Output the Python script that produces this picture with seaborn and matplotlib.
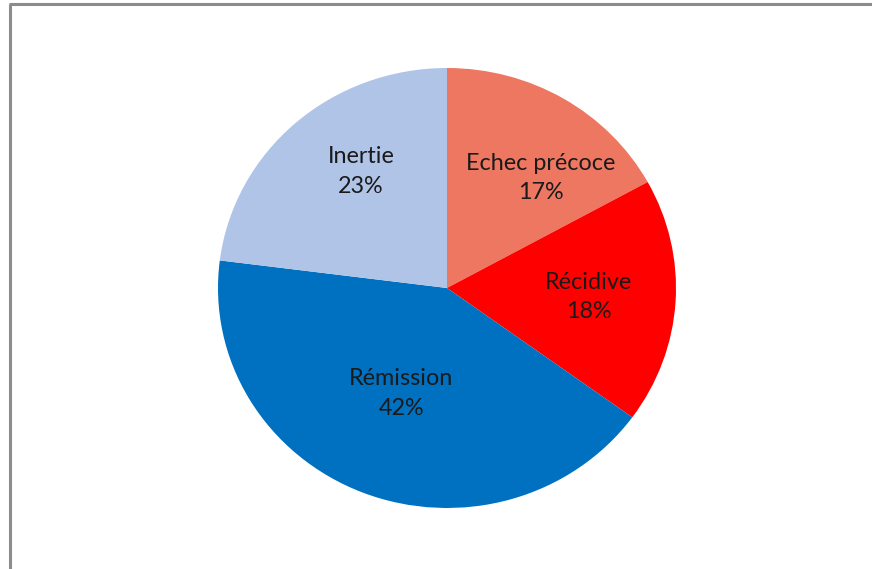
import matplotlib
matplotlib.use("Agg")
import matplotlib.pyplot as plt
from matplotlib.lines import Line2D
import seaborn as sns

categories = ["Echec précoce", "Récidive", "Rémission", "Inertie"]
shares = [17, 18, 42, 23]
colors = ["#EE7762", "#FF0000", "#0070C0", "#B0C4E8"]
# label anchor positions in pie-radius units (x right, y up)
label_pos = [(0.41, 0.50), (0.62, -0.04), (-0.20, -0.48), (-0.376, 0.53)]

sns.set_theme(style="white")
plt.rcParams["font.family"] = ["Lato", "DejaVu Sans"]

W, H = 872, 569
fig = plt.figure(figsize=(W / 100, H / 100), dpi=100)
fig.patch.set_facecolor("white")

# pie box: centre (447, 288) px, 458 px wide, 440 px tall
cx, cy, rw, rh = 447, 288, 229, 220
ax = fig.add_axes([(cx - rw) / W, (H - cy - rh) / H, 2 * rw / W, 2 * rh / H])
ax.pie(shares, colors=colors, startangle=90, counterclock=False,
       radius=1, frame=True, wedgeprops=dict(linewidth=0))
ax.set_aspect("auto")
ax.set_xlim(-1, 1)
ax.set_ylim(-1, 1)
ax.axis("off")

for name, val, (x, y) in zip(categories, shares, label_pos):
    ax.text(x, y, f"{name}\n{val}%", ha="center", va="center",
            fontsize=16.8, color="#1a1a1a", linespacing=1.5)

# chart frame (top and left edges)
frame_kw = dict(color="#8c8c8c", linewidth=2.2, transform=None, solid_capstyle="butt")
fig.lines.append(Line2D([10, 10], [0, H - 4], **frame_kw))
fig.lines.append(Line2D([9, W], [H - 4, H - 4], **frame_kw))

fig.savefig("out.png", dpi=100, facecolor="white")
